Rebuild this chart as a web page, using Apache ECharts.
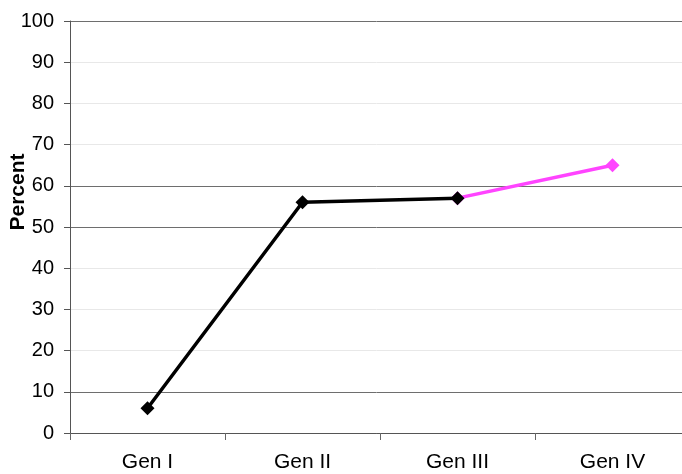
<!DOCTYPE html>
<html>
<head>
<meta charset="utf-8">
<script src="https://cdn.jsdelivr.net/npm/echarts@6/dist/echarts.min.js"></script>
<style>
  html, body { margin: 0; padding: 0; background: #fff; }
  #chart { width: 682px; height: 474px; }
</style>
</head>
<body>
<div id="chart"></div>
<script>
// Generations and their percentages
const categories = ['Gen I', 'Gen II', 'Gen III', 'Gen IV'];
const measured = [6, 56, 57, null];
const projected = [null, null, 57, 65];
const yTicks = [0, 10, 20, 30, 40, 50, 60, 70, 80, 90, 100];

// Split lines: darker at 0, 10, 50, 60, 100, faint elsewhere
const darkLines = [0, 10, 50, 60, 100];
const gridColors = yTicks.map(v => darkLines.includes(v) ? '#6e6e6e' : '#e8e8e8');

const FONT = 'Liberation Sans, Arial, sans-serif';
const chart = echarts.init(document.getElementById('chart'), null, { renderer: 'canvas' });

chart.setOption({
  animation: false,
  backgroundColor: '#ffffff',
  textStyle: { fontFamily: FONT },
  grid: {
    left: 70, top: 21, width: 620, height: 412,
    containLabel: false,
    outerBoundsMode: 'none'
  },
  xAxis: {
    type: 'category',
    data: categories,
    boundaryGap: true,
    axisLine: { lineStyle: { color: '#555', width: 1 } },
    axisTick: { show: true, length: 7, lineStyle: { color: '#666' } },
    axisLabel: { color: '#000', fontSize: 21, margin: 19 },
    splitLine: { show: false }
  },
  yAxis: {
    type: 'value',
    min: 0,
    max: 100,
    interval: 10,
    axisLine: { show: true, lineStyle: { color: '#555', width: 1 } },
    axisTick: { show: true, length: 6, lineStyle: { color: '#555' } },
    axisLabel: { color: '#000', fontSize: 20, margin: 16 },
    splitLine: { show: true, lineStyle: { color: gridColors, width: 1 } }
  },
  graphic: [{
    type: 'text',
    x: 18,
    y: 192,
    rotation: Math.PI / 2,
    style: {
      text: 'Percent',
      fontSize: 21,
      fontWeight: 'bold',
      fill: '#000',
      fontFamily: FONT,
      align: 'center',
      verticalAlign: 'middle'
    }
  }],
  series: [
    {
      name: 'projected',
      type: 'line',
      data: projected,
      z: 2,
      symbol: 'diamond',
      symbolSize: 14,
      connectNulls: false,
      lineStyle: { color: '#ff44ff', width: 3.5 },
      itemStyle: { color: '#ff44ff' }
    },
    {
      name: 'measured',
      type: 'line',
      data: measured,
      z: 3,
      symbol: 'diamond',
      symbolSize: 14,
      connectNulls: false,
      lineStyle: { color: '#000', width: 3.5 },
      itemStyle: { color: '#000' }
    }
  ]
});
</script>
</body>
</html>
